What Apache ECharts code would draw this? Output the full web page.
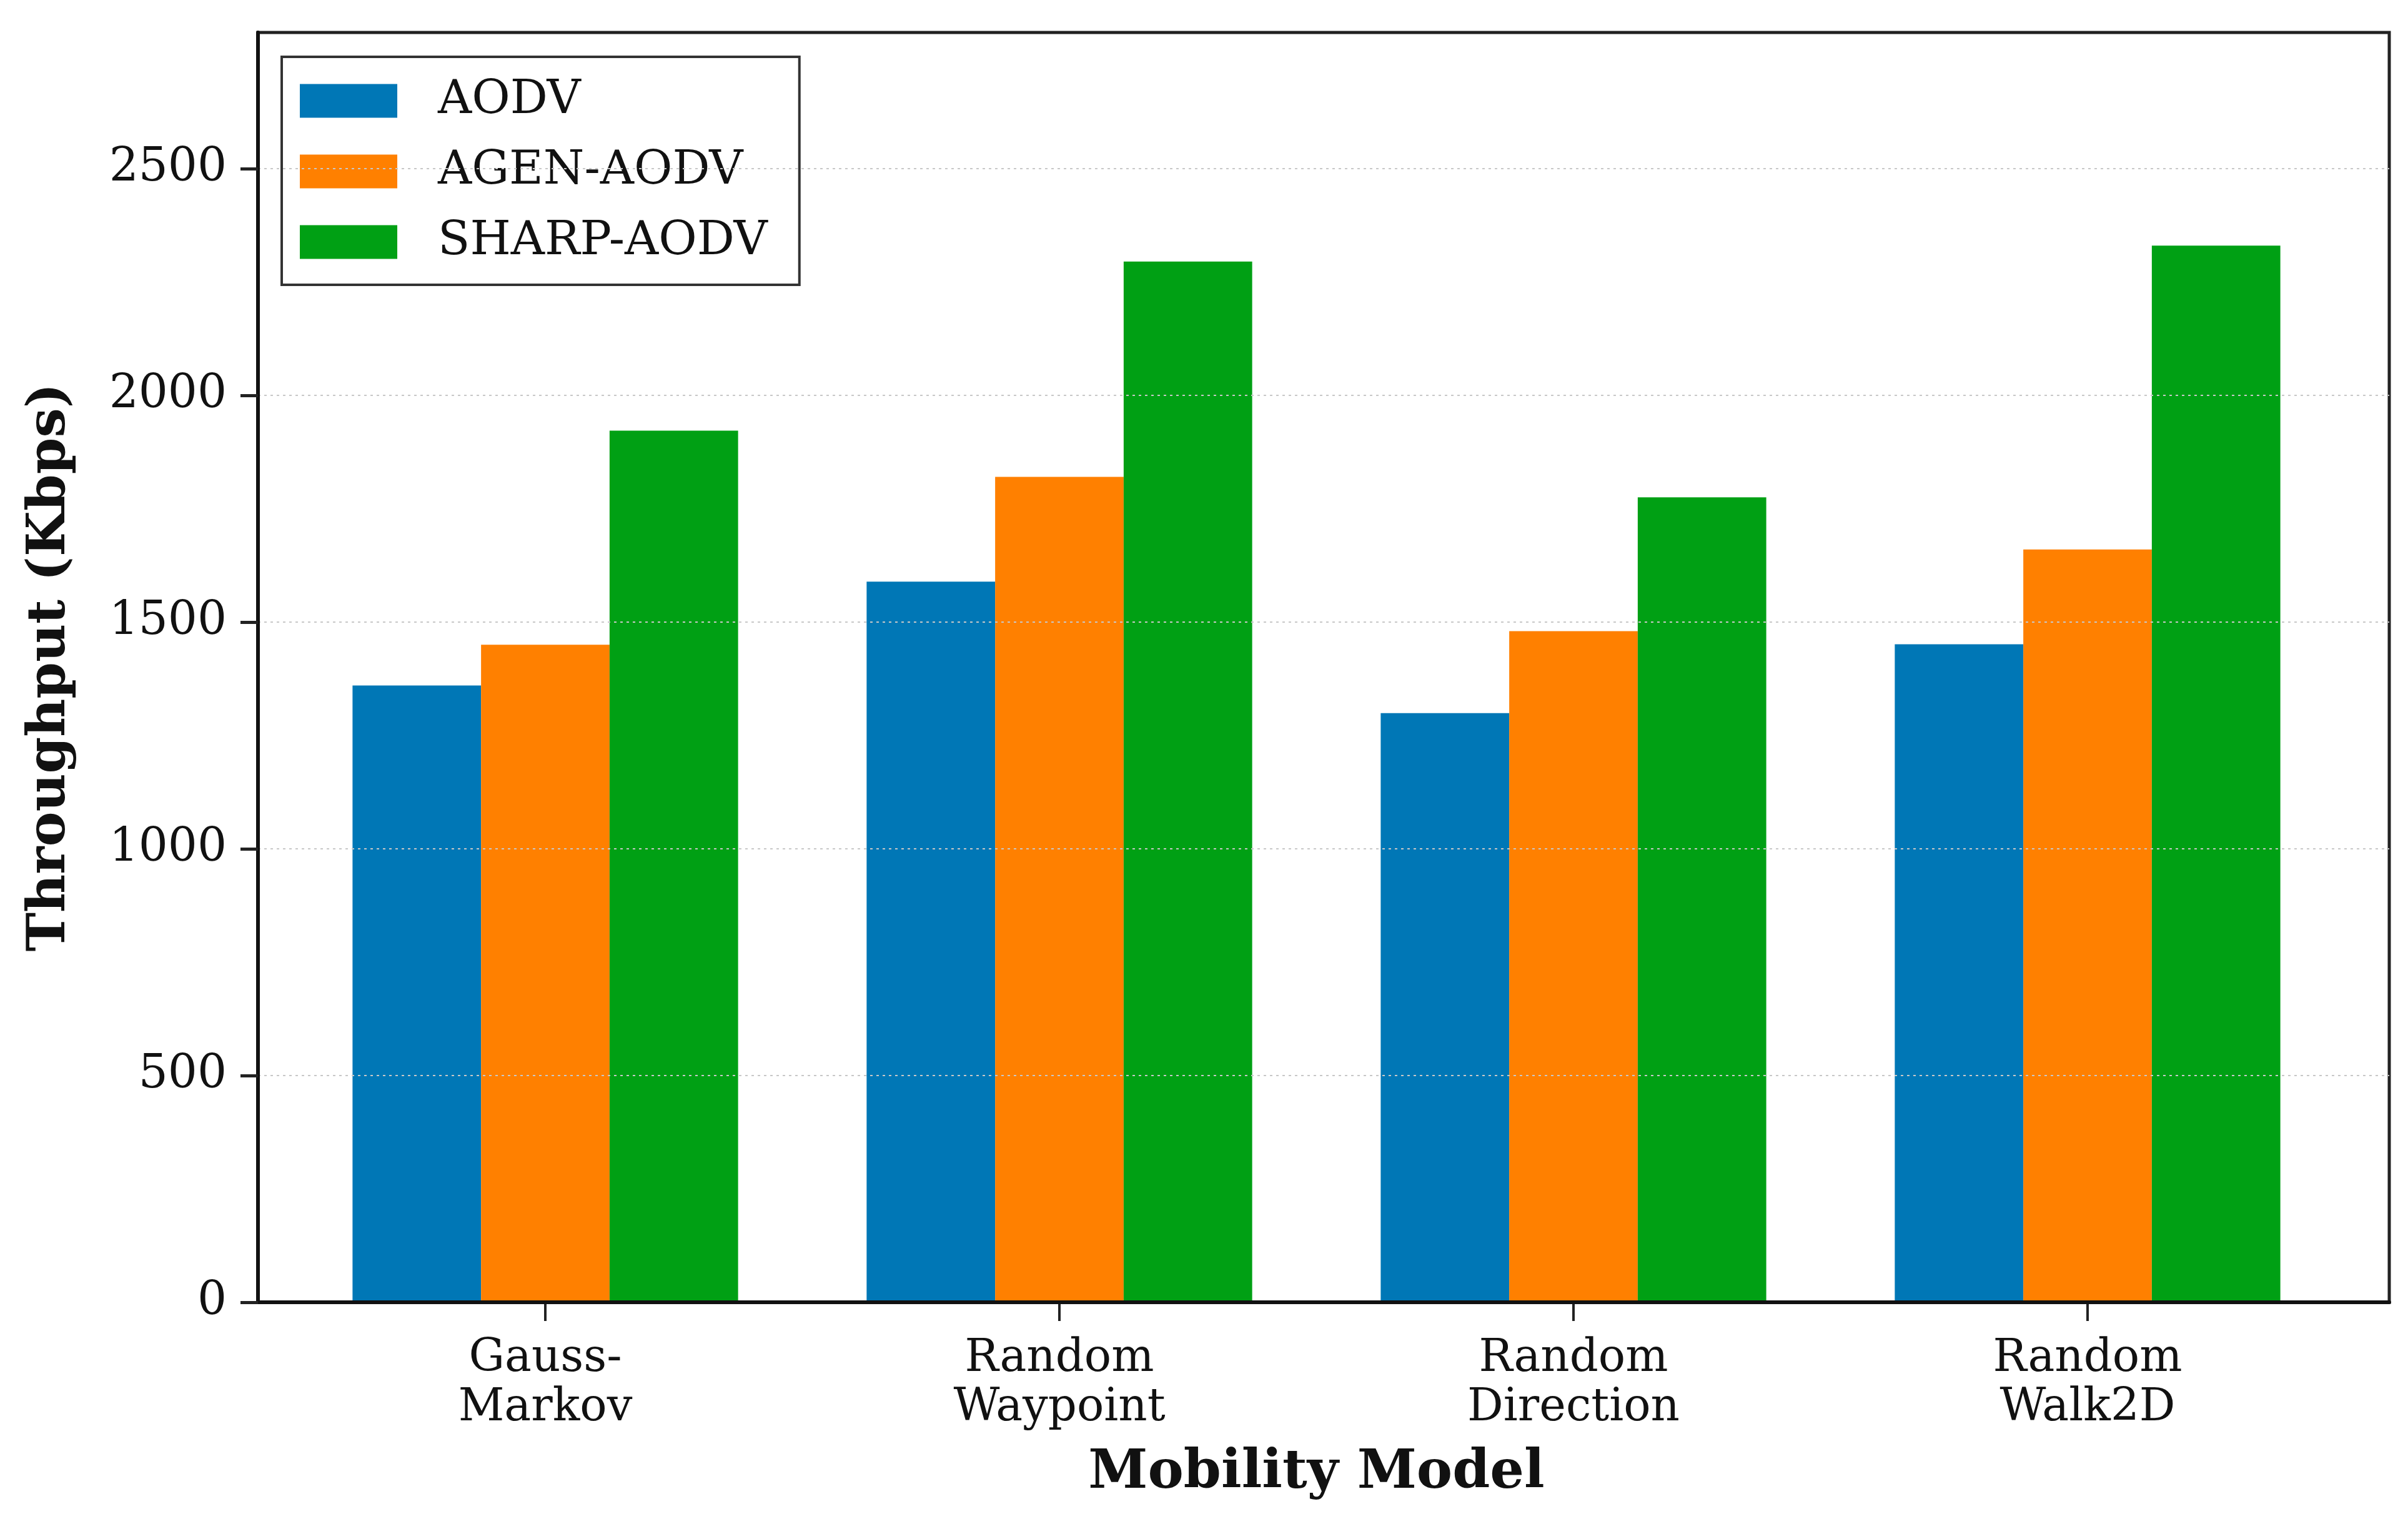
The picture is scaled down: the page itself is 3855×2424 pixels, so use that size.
<!DOCTYPE html>
<html>
<head>
<meta charset="utf-8">
<script src="https://cdn.jsdelivr.net/npm/echarts@6/dist/echarts.min.js"></script>
<style>
html,body{margin:0;padding:0;background:#fff;}
#chart{width:3855px;height:2424px;}
</style>
</head>
<body>
<div id="chart"></div>
<script>
const categories = ['Gauss-\nMarkov', 'Random\nWaypoint', 'Random\nDirection', 'Random\nWalk2D'];
const seriesNames = ['AODV', 'AGEN-AODV', 'SHARP-AODV'];
const aodv = [1360, 1589, 1299, 1451];
const agenAodv = [1450, 1820, 1480, 1660];
const sharpAodv = [1922, 2295, 1775, 2330];
const yTicks = [0, 500, 1000, 1500, 2000, 2500];
const yMax = 2800;
const colors = ['#0077b6', '#ff8000', '#00a014'];

const FONT = 'DejaVu Serif';
const chart = echarts.init(document.getElementById('chart'), null, {renderer: 'canvas'});

const seriesData = [aodv, agenAodv, sharpAodv];

const option = {
  backgroundColor: '#ffffff',
  animation: false,
  textStyle: {fontFamily: FONT, color: '#111'},
  grid: [
    {left: 413, top: 52, width: 3412, height: 2033, show: true, borderColor: '#222', borderWidth: 5, backgroundColor: 'transparent', containLabel: false, z: 10},
    {left: 461.5, top: 52, width: 3292, height: 2033, show: false, containLabel: false}
  ],
  legend: {
    data: seriesNames,
    orient: 'vertical',
    left: 451,
    top: 91,
    padding: [33, 51, 31, 29],
    itemWidth: 156,
    itemHeight: 54,
    itemGap: 38,
    icon: 'rect',
    borderColor: '#333',
    borderWidth: 4,
    borderRadius: 0,
    backgroundColor: '#fff',
    textStyle: {fontFamily: FONT, fontSize: 75, color: '#111', padding: [0, 0, 0, 60]}
  },
  xAxis: [
    {type: 'value', gridIndex: 0, min: 0, max: 1, z: 10,
     axisLine: {show: true, onZero: false, lineStyle: {color: '#111', width: 6}},
     axisTick: {show: false}, axisLabel: {show: false}, splitLine: {show: false}},
    {
      type: 'category', gridIndex: 1, data: categories, boundaryGap: true,
      axisLine: {show: false},
      axisTick: {show: true, alignWithLabel: true, length: 30, lineStyle: {color: '#222', width: 4}},
      axisLabel: {fontFamily: FONT, fontSize: 72, color: '#111', lineHeight: 79, margin: 52, interval: 0},
      name: 'Mobility Model', nameLocation: 'middle', nameGap: 232,
      nameTextStyle: {fontFamily: FONT, fontSize: 86, fontWeight: 'bold', color: '#111'},
      splitLine: {show: false}
    }
  ],
  yAxis: [
    {
      type: 'value', gridIndex: 0, min: 0, max: yMax, interval: 500, z: 10,
      axisLine: {show: true, onZero: false, lineStyle: {color: '#111', width: 6}},
      axisTick: {show: true, length: 28, lineStyle: {color: '#222', width: 5}, customValues: yTicks},
      axisLabel: {fontFamily: FONT, fontSize: 74, color: '#111', margin: 50, customValues: yTicks,
                  formatter: function (v) { return String(v); }},
      splitLine: {show: true, lineStyle: {color: '#c8c8c8', width: 2, type: [4, 6]}},
      name: 'Throughput (Kbps)', nameLocation: 'middle', nameRotate: 90, nameGap: 290,
      nameTextStyle: {fontFamily: FONT, fontSize: 84, fontWeight: 'bold', color: '#111'}
    },
    {type: 'value', gridIndex: 1, min: 0, max: yMax, show: false, splitLine: {show: false}}
  ],
  series: seriesNames.map((name, i) => ({
    name: name,
    type: 'bar',
    xAxisIndex: 1,
    yAxisIndex: 1,
    data: seriesData[i],
    barWidth: '25%',
    barGap: '0%',
    itemStyle: {color: colors[i]},
    z: 3
  }))
};
chart.setOption(option);
</script>
</body>
</html>
